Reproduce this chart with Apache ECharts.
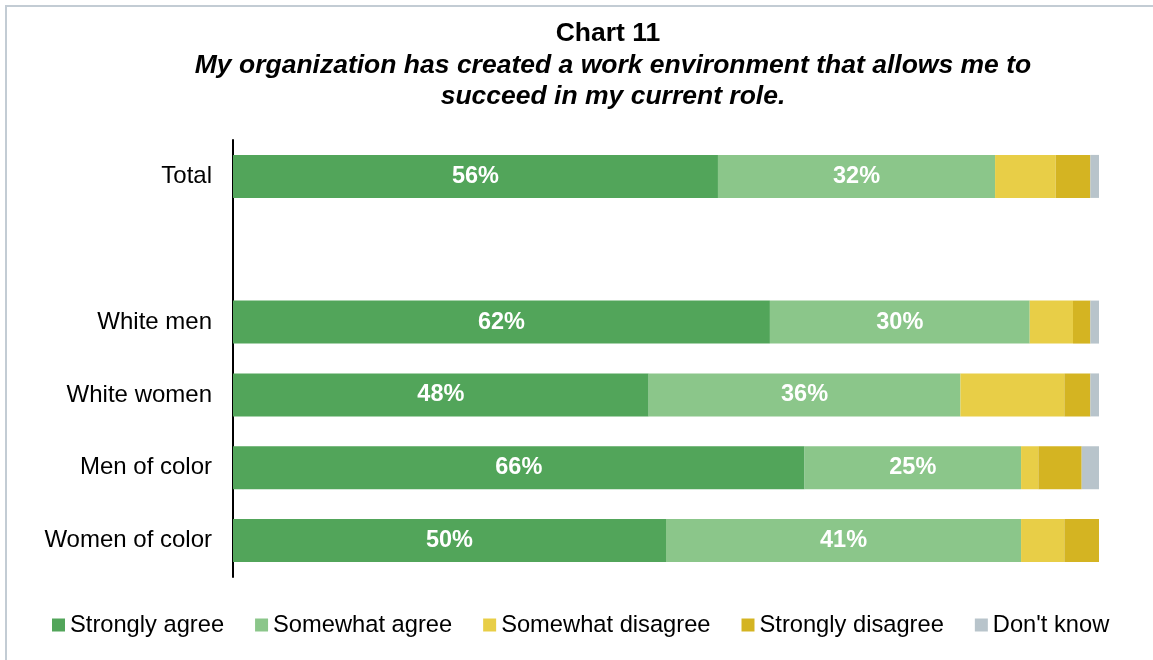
<!DOCTYPE html>
<html>
<head>
<meta charset="utf-8">
<script src="https://cdn.jsdelivr.net/npm/echarts@6/dist/echarts.min.js"></script>
<style>
  html, body { margin: 0; padding: 0; background: #fff; }
  #frame { position: absolute; left: 5px; top: 5px; width: 1200px; height: 700px;
           border-left: 2px solid #c3ccd4; border-top: 2px solid #c3ccd4; box-sizing: border-box; }
  #chart { position: absolute; left: 0; top: 0; width: 1153px; height: 660px; }
</style>
</head>
<body>
<div id="frame"></div>
<div id="chart"></div>
<script>
// Survey groups (blank entry leaves a gap below "Total")
const categories = ['Total', '', 'White men', 'White women', 'Men of color', 'Women of color'];
const seriesNames = ['Strongly agree', 'Somewhat agree', 'Somewhat disagree', 'Strongly disagree', "Don't know"];
const stronglyAgree    = [56, null, 62, 48, 66, 50];
const somewhatAgree    = [32, null, 30, 36, 25, 41];
const somewhatDisagree = [7,  null, 5, 12, 2, 5];
const stronglyDisagree = [4,  null, 2, 3, 5, 4];
const dontKnow         = [1,  null, 1, 1, 2, 0];
const colors = ['#52a55a', '#8bc68a', '#e8ce47', '#d4b422', '#b8c4cb'];

const values = [stronglyAgree, somewhatAgree, somewhatDisagree, stronglyDisagree, dontKnow];
const FONT = 'Liberation Sans, Arial, sans-serif';

const chart = echarts.init(document.getElementById('chart'), null, { renderer: 'canvas' });

const series = values.map((arr, i) => ({
  name: seriesNames[i],
  type: 'bar',
  stack: 'total',
  barWidth: 43,
  data: arr,
  itemStyle: { color: colors[i] },
  label: {
    show: i < 2,
    position: 'inside',
    color: '#fff',
    fontFamily: FONT,
    fontWeight: 'bold',
    fontSize: 23.5,
    formatter: p => (p.value == null ? '' : p.value + '%')
  },
  emphasis: { disabled: true }
}));

chart.setOption({
  animation: false,
  textStyle: { fontFamily: FONT },
  title: [
    {
      text: 'Chart 11',
      left: 603, textAlign: 'center', top: 15,
      textStyle: { fontFamily: FONT, fontWeight: 'bold', fontSize: 26.5, color: '#000' }
    },
    {
      text: 'My organization has created a work environment that allows me to\nsucceed in my current role.',
      left: 608, textAlign: 'center', top: 45,
      textStyle: { fontFamily: FONT, fontWeight: 'bold', fontStyle: 'italic', fontSize: 26.5,
                   lineHeight: 31, color: '#000' }
    }
  ],
  legend: {
    data: seriesNames,
    left: 47,
    top: 608,
    itemWidth: 13,
    itemHeight: 13,
    itemGap: 31,
    icon: 'rect',
    selectedMode: false,
    textStyle: { fontFamily: FONT, fontSize: 23.7, color: '#000' }
  },
  grid: { left: 233, right: 54, top: 140, bottom: 83, containLabel: false },
  xAxis: {
    type: 'value', min: 0, max: 100,
    show: false
  },
  yAxis: {
    type: 'category',
    data: categories,
    inverse: true,
    axisLine: { show: true, lineStyle: { color: '#000', width: 2 } },
    axisTick: { show: false },
    axisLabel: { fontFamily: FONT, fontSize: 24, color: '#000', margin: 21 },
    splitLine: { show: false }
  },
  series: series
});
</script>
</body>
</html>
